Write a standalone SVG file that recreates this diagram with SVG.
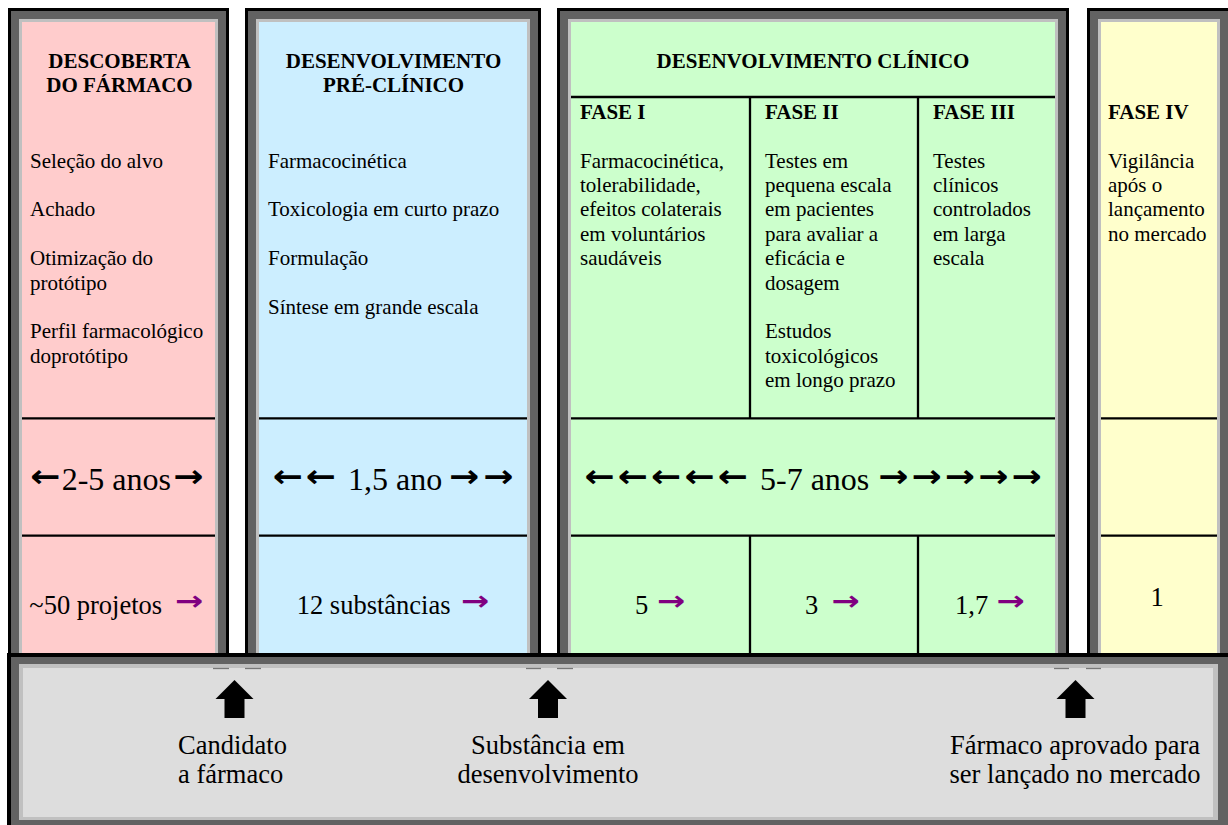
<svg xmlns="http://www.w3.org/2000/svg" width="1228" height="825" viewBox="0 0 1228 825">
<style>
.t{font-family:"Liberation Serif","Times New Roman",serif;fill:#000}
.h{font-size:21px;font-weight:bold}
.b{font-size:21px}
.d{font-size:32px}
.c{font-size:26.5px}
.m{text-anchor:middle}
.ar{font-family:"DejaVu Sans",sans-serif;font-weight:bold;font-size:30px;text-anchor:middle;fill:#000}
.pa{font-family:"DejaVu Sans",sans-serif;font-weight:bold;font-size:27px;text-anchor:middle;fill:#800080}
.ln{stroke:#000;stroke-width:2.3;fill:none}
.blk{fill:#000}
.dk{fill:#626262}
.lt{fill:#c0c0c0}
.tick{stroke:#777;stroke-width:1.3}
</style>
<defs>
<path id="uparrow" d="M0,0 L19,19 L10,19 L10,38 L-10,38 L-10,19 L-19,19 Z" fill="#000"/>
</defs>
<rect width="1228" height="825" fill="#fff"/>

<g id="col-descoberta">
<rect class="blk" x="8" y="8" width="221" height="650"/>
<rect class="dk" x="11" y="11" width="215" height="647"/>
<rect class="lt" x="19" y="19" width="199" height="639"/>
<rect x="22" y="22" width="193" height="636" fill="#ffcccc"/>
<line class="ln" x1="22" y1="418.3" x2="215" y2="418.3"/>
<line class="ln" x1="22" y1="535.7" x2="215" y2="535.7"/>
<text class="t h m" x="119.5" y="68">DESCOBERTA</text>
<text class="t h m" x="119.5" y="92.3">DO FÁRMACO</text>
<text class="t b" x="30" y="167.5">Seleção do alvo</text>
<text class="t b" x="30" y="216.3">Achado</text>
<text class="t b" x="30" y="265.1">Otimização do</text>
<text class="t b" x="30" y="289.5">protótipo</text>
<text class="t b" x="30" y="338.3">Perfil farmacológico</text>
<text class="t b" x="30" y="362.7">doprotótipo</text>
<text class="ar" transform="translate(45,487) scale(1.2,1.05)">←</text>
<text class="t d" x="61.7" y="490">2-5 anos</text>
<text class="ar" transform="translate(188.3,487) scale(1.2,1.05)">→</text>
<text class="t c" x="29.3" y="613.5">~50 projetos</text>
<text class="pa" transform="translate(189.3,609.7) scale(1.25,1)">→</text>
</g>

<g id="col-preclinico">
<rect class="blk" x="245" y="8" width="296" height="650"/>
<rect class="dk" x="248" y="11" width="290" height="647"/>
<rect class="lt" x="256" y="19" width="274" height="639"/>
<rect x="259" y="22" width="268" height="636" fill="#cceeff"/>
<line class="ln" x1="259" y1="418.3" x2="527" y2="418.3"/>
<line class="ln" x1="259" y1="535.7" x2="527" y2="535.7"/>
<text class="t h m" x="393.5" y="68">DESENVOLVIMENTO</text>
<text class="t h m" x="393.5" y="92.3">PRÉ-CLÍNICO</text>
<text class="t b" x="268" y="167.5">Farmacocinética</text>
<text class="t b" x="268" y="216.3">Toxicologia em curto prazo</text>
<text class="t b" x="268" y="265.1">Formulação</text>
<text class="t b" x="268" y="313.9">Síntese em grande escala</text>
<text class="ar" transform="translate(287.5,487) scale(1.2,1.05)">←</text>
<text class="ar" transform="translate(320.5,487) scale(1.2,1.05)">←</text>
<text class="t d" x="348" y="490">1,5 ano</text>
<text class="ar" transform="translate(464.2,487) scale(1.2,1.05)">→</text>
<text class="ar" transform="translate(498.3,487) scale(1.2,1.05)">→</text>
<text class="t c" x="296.7" y="613.5">12 substâncias</text>
<text class="pa" transform="translate(475.3,609.7) scale(1.25,1)">→</text>
</g>

<g id="col-clinico">
<rect class="blk" x="557" y="8" width="512" height="650"/>
<rect class="dk" x="560" y="11" width="506" height="647"/>
<rect class="lt" x="568" y="19" width="490" height="639"/>
<rect x="571" y="22" width="484" height="636" fill="#ccffcc"/>
<line class="ln" x1="571" y1="97" x2="1055" y2="97"/>
<line class="ln" x1="571" y1="418.3" x2="1055" y2="418.3"/>
<line class="ln" x1="571" y1="535.7" x2="1055" y2="535.7"/>
<line class="ln" x1="750" y1="97" x2="750" y2="418.3"/>
<line class="ln" x1="918" y1="97" x2="918" y2="418.3"/>
<line class="ln" x1="750" y1="535.7" x2="750" y2="655"/>
<line class="ln" x1="918" y1="535.7" x2="918" y2="655"/>
<text class="t h m" x="813" y="68">DESENVOLVIMENTO CLÍNICO</text>
<text class="t h" x="580" y="119">FASE I</text>
<text class="t h" x="765" y="119">FASE II</text>
<text class="t h" x="933" y="119">FASE III</text>
<text class="t b" x="580" y="167.5">Farmacocinética,</text>
<text class="t b" x="580" y="191.9">tolerabilidade,</text>
<text class="t b" x="580" y="216.3">efeitos colaterais</text>
<text class="t b" x="580" y="240.7">em voluntários</text>
<text class="t b" x="580" y="265.1">saudáveis</text>
<text class="t b" x="765" y="167.5">Testes em</text>
<text class="t b" x="765" y="191.9">pequena escala</text>
<text class="t b" x="765" y="216.3">em pacientes</text>
<text class="t b" x="765" y="240.7">para avaliar a</text>
<text class="t b" x="765" y="265.1">eficácia e</text>
<text class="t b" x="765" y="289.5">dosagem</text>
<text class="t b" x="765" y="338.3">Estudos</text>
<text class="t b" x="765" y="362.7">toxicológicos</text>
<text class="t b" x="765" y="387.1">em longo prazo</text>
<text class="t b" x="933" y="167.5">Testes</text>
<text class="t b" x="933" y="191.9">clínicos</text>
<text class="t b" x="933" y="216.3">controlados</text>
<text class="t b" x="933" y="240.7">em larga</text>
<text class="t b" x="933" y="265.1">escala</text>
<text class="ar" transform="translate(599.3,487) scale(1.2,1.05)">←</text>
<text class="ar" transform="translate(632.5,487) scale(1.2,1.05)">←</text>
<text class="ar" transform="translate(665.8,487) scale(1.2,1.05)">←</text>
<text class="ar" transform="translate(699.3,487) scale(1.2,1.05)">←</text>
<text class="ar" transform="translate(732.5,487) scale(1.2,1.05)">←</text>
<text class="t d" x="760" y="490">5-7 anos</text>
<text class="ar" transform="translate(893.3,487) scale(1.2,1.05)">→</text>
<text class="ar" transform="translate(926.5,487) scale(1.2,1.05)">→</text>
<text class="ar" transform="translate(959.8,487) scale(1.2,1.05)">→</text>
<text class="ar" transform="translate(993.3,487) scale(1.2,1.05)">→</text>
<text class="ar" transform="translate(1026.5,487) scale(1.2,1.05)">→</text>
<text class="t c" x="635" y="613.5">5</text>
<text class="pa" transform="translate(671.5,609.7) scale(1.25,1)">→</text>
<text class="t c" x="805" y="613.5">3</text>
<text class="pa" transform="translate(846,609.7) scale(1.25,1)">→</text>
<text class="t c" x="955" y="613.5">1,7</text>
<text class="pa" transform="translate(1011,609.7) scale(1.25,1)">→</text>
</g>

<g id="col-fase4">
<rect class="blk" x="1087" y="8" width="144" height="650"/>
<rect class="dk" x="1090" y="11" width="138" height="647"/>
<rect class="lt" x="1098" y="19" width="122" height="639"/>
<rect x="1101" y="22" width="116" height="636" fill="#ffffcc"/>
<line class="ln" x1="1101" y1="418.3" x2="1217" y2="418.3"/>
<line class="ln" x1="1101" y1="535.7" x2="1217" y2="535.7"/>
<text class="t h" x="1108" y="119">FASE IV</text>
<text class="t b" x="1108" y="167.5">Vigilância</text>
<text class="t b" x="1108" y="191.9">após o</text>
<text class="t b" x="1108" y="216.3">lançamento</text>
<text class="t b" x="1108" y="240.7">no mercado</text>
<text class="t c m" x="1157" y="606">1</text>
</g>

<g id="milestones-panel">
<rect class="blk" x="7" y="653" width="1225" height="180"/>
<rect class="dk" x="11" y="657" width="1221" height="176"/>
<rect class="lt" x="19" y="664" width="1199" height="156"/>
<rect x="23" y="668" width="1190" height="149" fill="#dddddd"/>
<line class="tick" x1="213" y1="668.5" x2="229" y2="668.5"/>
<line class="tick" x1="245" y1="668.5" x2="261" y2="668.5"/>
<line class="tick" x1="526" y1="668.5" x2="541" y2="668.5"/>
<line class="tick" x1="557" y1="668.5" x2="573" y2="668.5"/>
<line class="tick" x1="1054" y1="668.5" x2="1069" y2="668.5"/>
<line class="tick" x1="1086" y1="668.5" x2="1101" y2="668.5"/>
</g>

<g id="connectors">
<use href="#uparrow" x="234.5" y="680"/>
<use href="#uparrow" x="548" y="680"/>
<use href="#uparrow" x="1075.5" y="680"/>
</g>

<g id="milestone-candidato">
<text class="t c" x="178" y="753.5">Candidato</text>
<text class="t c" x="178" y="783">a fármaco</text>
</g>
<g id="milestone-substancia">
<text class="t c m" x="548" y="753.5">Substância em</text>
<text class="t c m" x="548" y="783">desenvolvimento</text>
</g>
<g id="milestone-aprovado">
<text class="t c m" x="1075" y="753.5">Fármaco aprovado para</text>
<text class="t c m" x="1075" y="783">ser lançado no mercado</text>
</g>
</svg>
